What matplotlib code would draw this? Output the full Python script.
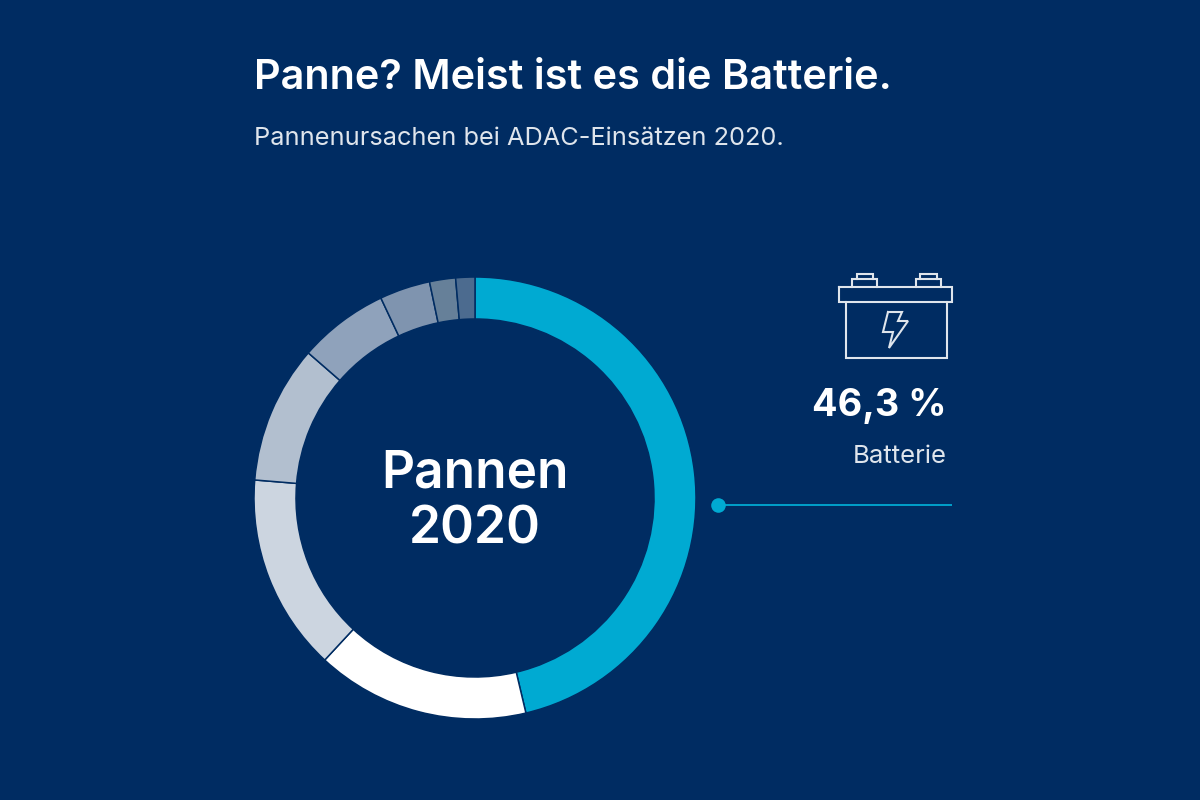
import matplotlib
matplotlib.use('Agg')
import matplotlib.pyplot as plt

# share of breakdowns, clockwise from the top
labels = ['Batterie', 'Ursache 2', 'Ursache 3', 'Ursache 4', 'Ursache 5', 'Ursache 6', 'Ursache 7', 'Ursache 8']
values = [46.3, 15.6, 14.4, 10.1, 6.6, 3.7, 1.9, 1.4]
colors = ['#00aad2', '#ffffff', '#ccd5e0', '#b2bfcf', '#8fa2bb', '#7f94af', '#668099', '#4c6b8f']

title = 'Panne? Meist ist es die Batterie.'
subtitle = 'Pannenursachen bei ADAC-Einsätzen 2020.'
center_label = 'Pannen\n2020'
value_label = '46,3 %'
value_name = 'Batterie'

navy = '#002c62'
light = '#dfe5ec'

plt.rcParams['font.family'] = 'Inter'

fig = plt.figure(figsize=(12, 8), dpi=100, facecolor=navy)

# overlay in pixel coordinates for text and the icon
bg = fig.add_axes([0, 0, 1, 1])
bg.set_xlim(0, 1200)
bg.set_ylim(800, 0)
bg.axis('off')

# donut
ax = fig.add_axes([254 / 1200, (800 - 719) / 800, 442 / 1200, 442 / 800])
ax.pie(values, colors=colors, startangle=90, counterclock=False, radius=1,
       wedgeprops=dict(width=42 / 221, edgecolor=navy, linewidth=1.1))
ax.set_xlim(-1, 1)
ax.set_ylim(-1, 1)
ax.text(0, -0.02, center_label, color='white', fontsize=37, fontweight='semibold',
        ha='center', va='center', linespacing=1.18)

# Header
bg.text(254, 89, title, color='white', fontsize=29.85, fontweight='semibold', va='baseline')
bg.text(254, 145, subtitle, color=light, fontsize=18.25, va='baseline')

# Callout
bg.text(947, 416, value_label, color='white', fontsize=27.2, fontweight='bold', ha='right', va='baseline')
bg.text(947, 463, value_name, color=light, fontsize=18.5, ha='right', va='baseline')
bg.plot([718, 952], [505, 505], color=colors[0], lw=1.3, solid_capstyle='butt')
bg.plot([718], [505], marker='o', ms=10.5, color=colors[0], mew=0)

# Battery icon
icon = dict(color=light, lw=1.5, solid_joinstyle='miter')
bg.plot([839, 952, 952, 839, 839], [287, 287, 302, 302, 287], **icon)
bg.plot([846, 846, 947, 947], [302, 358, 358, 302], **icon)
bg.plot([852, 852, 877, 877], [287, 279, 279, 287], **icon)
bg.plot([857, 857, 873, 873], [279, 274, 274, 279], **icon)
bg.plot([916, 916, 941, 941], [287, 279, 279, 287], **icon)
bg.plot([920, 920, 937, 937], [279, 274, 274, 279], **icon)
bg.plot([888, 902, 898, 908, 889, 893, 883, 888],
        [312, 312, 321, 321, 348, 332, 332, 312], **icon)

fig.savefig('out.png', dpi=100, facecolor=navy)
